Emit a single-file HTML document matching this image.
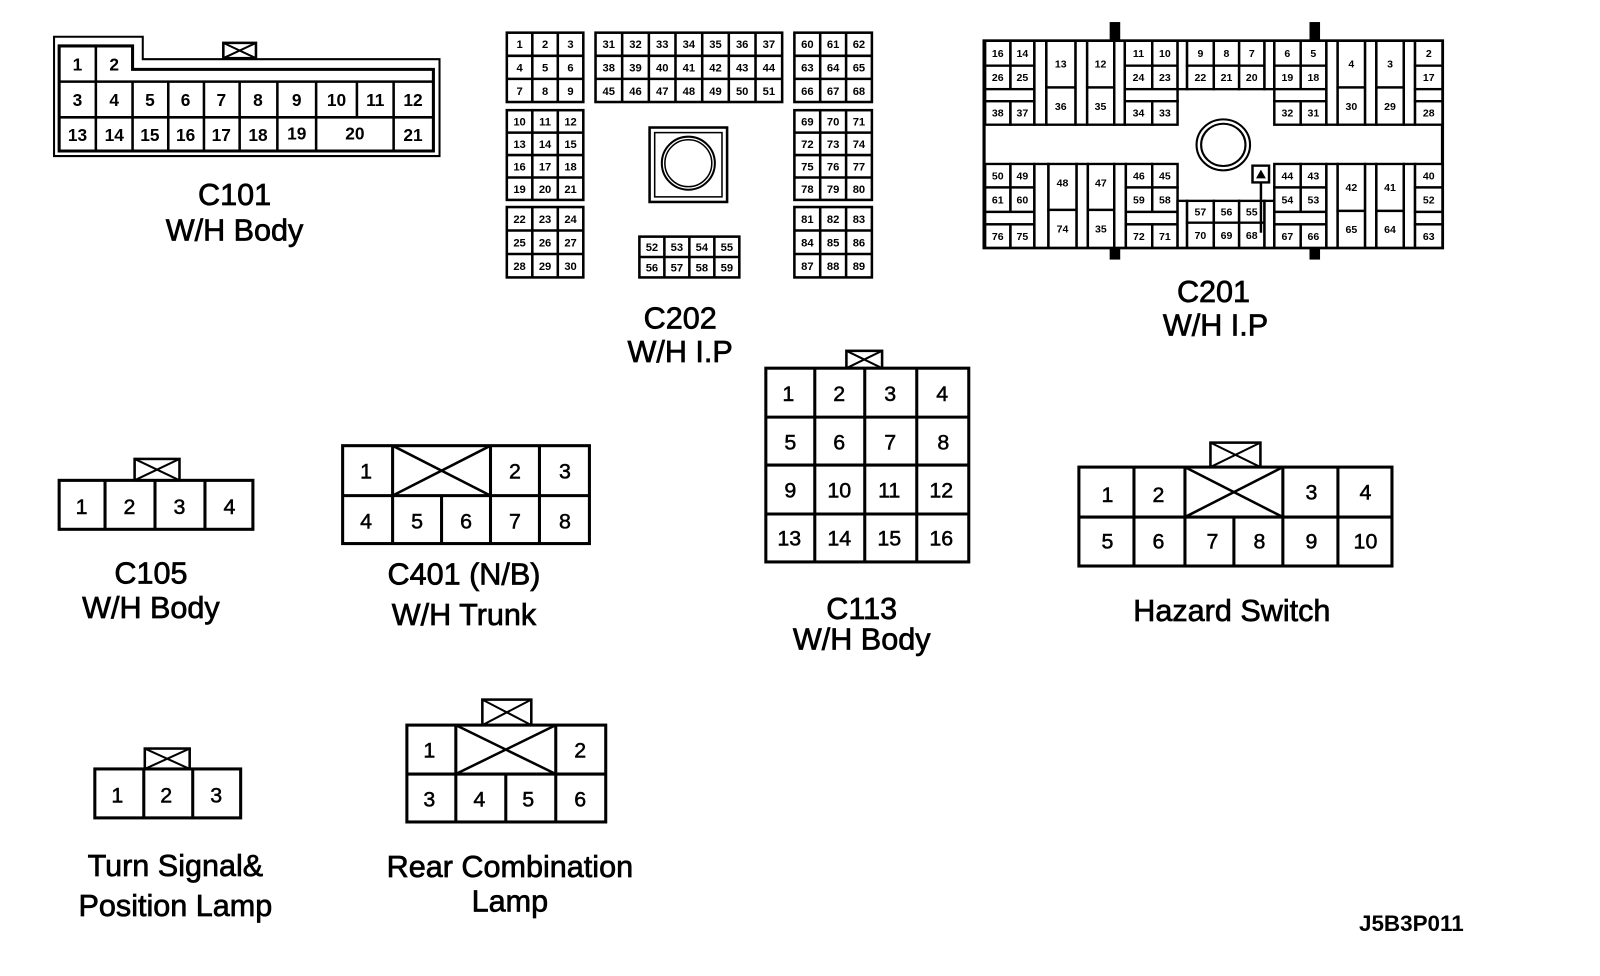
<!DOCTYPE html>
<html><head><meta charset="utf-8"><style>
html,body{margin:0;padding:0;background:#fff;}
svg{display:block;}
text{font-family:"Liberation Sans",Arial,sans-serif;fill:#000;text-anchor:middle;}
.lb{font-size:30px;stroke:#000;stroke-width:0.7px;}
.n{font-size:21px;stroke:#000;stroke-width:0.5px;}
.s{font-size:11px;font-weight:bold;}
.z{font-size:30px;font-weight:bold;}
</style></head><body>
<svg width="1600" height="976" viewBox="0 0 1569 957" xmlns="http://www.w3.org/2000/svg">
<rect x="0" y="0" width="1569" height="957" fill="#fff"/>
<g fill="none" stroke="#000">
<!-- C101 -->
<path d="M53,36H140V58H431V153H53Z" stroke-width="2"/>
<path d="M58,45H130V68H425V148H58Z" stroke-width="3"/>
<path d="M58,80H425M58,115H425M94,45V148M130,80V148M165,80V148M200,80V148M235,80V148M272,80V148M310,80V148M350,80V115M386,80V148" stroke-width="2.5"/>
<rect x="219" y="42" width="32" height="15" stroke-width="2.5" fill="#fff"/><path d="M219,42L251,57M251,42L219,57" stroke-width="2"/>
<!-- C202 blocks -->
<g stroke-width="2.5">
<rect x="497" y="32" width="75" height="68"/><path d="M522,32V100M547,32V100M497,54.7H572M497,77.3H572"/>
<rect x="584" y="32" width="183" height="68"/><path d="M610.1,32V100M636.3,32V100M662.4,32V100M688.6,32V100M714.7,32V100M740.9,32V100M584,54.7H767M584,77.3H767"/>
<rect x="779" y="32" width="76" height="68"/><path d="M804.3,32V100M829.7,32V100M779,54.7H855M779,77.3H855"/>
<rect x="497" y="108" width="75" height="88"/><path d="M522,108V196M547,108V196M497,130H572M497,152H572M497,174H572"/>
<rect x="497" y="203" width="75" height="69"/><path d="M522,203V272M547,203V272M497,226H572M497,249H572"/>
<rect x="779" y="108" width="76" height="88"/><path d="M804.3,108V196M829.7,108V196M779,130H855M779,152H855M779,174H855"/>
<rect x="779" y="203" width="76" height="69"/><path d="M804.3,203V272M829.7,203V272M779,226H855M779,249H855"/>
<rect x="627" y="232" width="98" height="40"/><path d="M651.5,232V272M676,232V272M700.5,232V272M627,252H725"/>
<rect x="637" y="125" width="76" height="73" stroke-width="2.5"/><rect x="642" y="130" width="66" height="63" stroke-width="1.5"/>
<circle cx="675" cy="160" r="26" stroke-width="2"/><circle cx="675" cy="160" r="23" stroke-width="1.5"/>
</g>
<!-- C105 -->
<rect x="132" y="450" width="44" height="21" stroke-width="2.5"/><path d="M132,450L176,471M176,450L132,471" stroke-width="2"/>
<rect x="58" y="471" width="190" height="48" stroke-width="3"/><path d="M103,471V519M152,471V519M201,471V519" stroke-width="3"/>
<!-- C401 -->
<rect x="336" y="437" width="242" height="96" stroke-width="3"/>
<path d="M336,486H578M385,437V533M481,437V533M529,437V533M433,486V533" stroke-width="3"/>
<path d="M385,437L481,486M481,437L385,486" stroke-width="2.5"/>
<!-- C113 -->
<rect x="830" y="344" width="35" height="17" stroke-width="2.5"/><path d="M830,344L865,361M865,344L830,361" stroke-width="2"/>
<rect x="751" y="361" width="199" height="190" stroke-width="3"/>
<path d="M799,361V551M848,361V551M899,361V551M751,409H950M751,456H950M751,504H950" stroke-width="3"/>
<!-- Hazard -->
<rect x="1187" y="434" width="49" height="24" stroke-width="2.5"/><path d="M1187,434L1236,458M1236,434L1187,458" stroke-width="2"/>
<rect x="1058" y="458" width="307" height="97" stroke-width="3"/>
<path d="M1058,507H1365M1112,458V555M1162,458V555M1258,458V555M1312,458V555M1210,507V555" stroke-width="3"/>
<path d="M1162,458L1258,507M1258,458L1162,507" stroke-width="2.5"/>
<!-- Turn signal -->
<rect x="142" y="734" width="44" height="20" stroke-width="2.5"/><path d="M142,734L186,754M186,734L142,754" stroke-width="2"/>
<rect x="93" y="754" width="143" height="48" stroke-width="3"/><path d="M141,754V802M189,754V802" stroke-width="3"/>
<!-- Rear combination -->
<rect x="473" y="686" width="48" height="25" stroke-width="2.5"/><path d="M473,686L521,711M521,686L473,711" stroke-width="2"/>
<rect x="399" y="711" width="195" height="95" stroke-width="3"/>
<path d="M399,759H594M447,711V806M545,711V806M496,759V806" stroke-width="3"/>
<path d="M447,711L545,759M545,711L447,759" stroke-width="2.5"/>
</g>

<!-- C101 numbers -->
<g class="n" style="font-size:17px;font-weight:bold;stroke-width:0">
<text x="76" y="69">1</text><text x="112" y="69">2</text>
<text x="76" y="104">3</text><text x="112" y="104">4</text><text x="147" y="104">5</text><text x="182" y="104">6</text><text x="217" y="104">7</text><text x="253" y="104">8</text><text x="291" y="104">9</text><text x="330" y="104">10</text><text x="368" y="104">11</text><text x="405" y="104">12</text>
<text x="76" y="138">13</text><text x="112" y="138">14</text><text x="147" y="138">15</text><text x="182" y="138">16</text><text x="217" y="138">17</text><text x="253" y="138">18</text><text x="291" y="137">19</text><text x="348" y="137">20</text><text x="405" y="138">21</text>
</g>
<!-- C202 numbers -->
<g class="s">
<text x="509.5" y="47">1</text><text x="534.5" y="47">2</text><text x="559.5" y="47">3</text>
<text x="509.5" y="70">4</text><text x="534.5" y="70">5</text><text x="559.5" y="70">6</text>
<text x="509.5" y="93">7</text><text x="534.5" y="93">8</text><text x="559.5" y="93">9</text>
<text x="597" y="47">31</text><text x="623.2" y="47">32</text><text x="649.4" y="47">33</text><text x="675.5" y="47">34</text><text x="701.6" y="47">35</text><text x="727.8" y="47">36</text><text x="754" y="47">37</text>
<text x="597" y="70">38</text><text x="623.2" y="70">39</text><text x="649.4" y="70">40</text><text x="675.5" y="70">41</text><text x="701.6" y="70">42</text><text x="727.8" y="70">43</text><text x="754" y="70">44</text>
<text x="597" y="93">45</text><text x="623.2" y="93">46</text><text x="649.4" y="93">47</text><text x="675.5" y="93">48</text><text x="701.6" y="93">49</text><text x="727.8" y="93">50</text><text x="754" y="93">51</text>
<text x="791.7" y="47">60</text><text x="817" y="47">61</text><text x="842.3" y="47">62</text>
<text x="791.7" y="70">63</text><text x="817" y="70">64</text><text x="842.3" y="70">65</text>
<text x="791.7" y="93">66</text><text x="817" y="93">67</text><text x="842.3" y="93">68</text>
<text x="509.5" y="123">10</text><text x="534.5" y="123">11</text><text x="559.5" y="123">12</text>
<text x="509.5" y="145">13</text><text x="534.5" y="145">14</text><text x="559.5" y="145">15</text>
<text x="509.5" y="167">16</text><text x="534.5" y="167">17</text><text x="559.5" y="167">18</text>
<text x="509.5" y="189">19</text><text x="534.5" y="189">20</text><text x="559.5" y="189">21</text>
<text x="509.5" y="218.5">22</text><text x="534.5" y="218.5">23</text><text x="559.5" y="218.5">24</text>
<text x="509.5" y="241.5">25</text><text x="534.5" y="241.5">26</text><text x="559.5" y="241.5">27</text>
<text x="509.5" y="264.5">28</text><text x="534.5" y="264.5">29</text><text x="559.5" y="264.5">30</text>
<text x="791.7" y="123">69</text><text x="817" y="123">70</text><text x="842.3" y="123">71</text>
<text x="791.7" y="145">72</text><text x="817" y="145">73</text><text x="842.3" y="145">74</text>
<text x="791.7" y="167">75</text><text x="817" y="167">76</text><text x="842.3" y="167">77</text>
<text x="791.7" y="189">78</text><text x="817" y="189">79</text><text x="842.3" y="189">80</text>
<text x="791.7" y="218.5">81</text><text x="817" y="218.5">82</text><text x="842.3" y="218.5">83</text>
<text x="791.7" y="241.5">84</text><text x="817" y="241.5">85</text><text x="842.3" y="241.5">86</text>
<text x="791.7" y="264.5">87</text><text x="817" y="264.5">88</text><text x="842.3" y="264.5">89</text>
<text x="639.3" y="246">52</text><text x="663.8" y="246">53</text><text x="688.3" y="246">54</text><text x="712.8" y="246">55</text>
<text x="639.3" y="266">56</text><text x="663.8" y="266">57</text><text x="688.3" y="266">58</text><text x="712.8" y="266">59</text>
</g>

<!-- C201 -->
<g transform="translate(965,40) scale(0.345,0.329) translate(-75,-68)">
<g fill="#fff" stroke="#000" stroke-width="7">
<rect x="75" y="68" width="1303" height="617" fill="none" stroke-width="9"/>
<rect x="78" y="68" width="72" height="74"/><rect x="150" y="68" width="68" height="74"/><rect x="78" y="142" width="72" height="70"/><rect x="150" y="142" width="68" height="70"/><rect x="78" y="212" width="140" height="36"/><rect x="78" y="248" width="72" height="70"/><rect x="150" y="248" width="68" height="70"/>
<rect x="218" y="68" width="34" height="250"/>
<rect x="252" y="68" width="83" height="139"/><rect x="252" y="207" width="83" height="111"/>
<rect x="335" y="68" width="33" height="250"/>
<rect x="368" y="68" width="77" height="139"/><rect x="368" y="207" width="77" height="111"/>
<rect x="445" y="68" width="30" height="250"/>
<rect x="475" y="68" width="78" height="74"/><rect x="553" y="68" width="72" height="74"/><rect x="475" y="142" width="78" height="70"/><rect x="553" y="142" width="72" height="70"/><rect x="475" y="212" width="150" height="36"/><rect x="475" y="248" width="78" height="70"/><rect x="553" y="248" width="72" height="70"/>
<rect x="625" y="68" width="27" height="144"/>
<rect x="652" y="68" width="76" height="74"/><rect x="728" y="68" width="72" height="74"/><rect x="800" y="68" width="72" height="74"/><rect x="652" y="142" width="76" height="70"/><rect x="728" y="142" width="72" height="70"/><rect x="800" y="142" width="72" height="70"/>
<rect x="872" y="68" width="28" height="144"/>
<rect x="900" y="68" width="75" height="74"/><rect x="975" y="68" width="73" height="74"/><rect x="900" y="142" width="75" height="70"/><rect x="975" y="142" width="73" height="70"/><rect x="900" y="212" width="148" height="36"/><rect x="900" y="248" width="75" height="70"/><rect x="975" y="248" width="73" height="70"/>
<rect x="1048" y="68" width="32" height="250"/>
<rect x="1080" y="68" width="78" height="139"/><rect x="1080" y="207" width="78" height="111"/>
<rect x="1158" y="68" width="32" height="250"/>
<rect x="1190" y="68" width="78" height="139"/><rect x="1190" y="207" width="78" height="111"/>
<rect x="1268" y="68" width="32" height="250"/>
<rect x="1300" y="68" width="78" height="74"/><rect x="1300" y="142" width="78" height="70"/><rect x="1300" y="212" width="78" height="36"/><rect x="1300" y="248" width="78" height="70"/>

<rect x="78" y="435" width="72" height="70"/><rect x="150" y="435" width="68" height="70"/><rect x="78" y="505" width="72" height="73"/><rect x="150" y="505" width="68" height="73"/><rect x="78" y="578" width="140" height="37"/><rect x="78" y="615" width="72" height="70"/><rect x="150" y="615" width="68" height="70"/>
<rect x="218" y="435" width="40" height="250"/>
<rect x="258" y="435" width="80" height="137"/><rect x="258" y="572" width="80" height="113"/>
<rect x="338" y="435" width="32" height="250"/>
<rect x="370" y="435" width="75" height="137"/><rect x="370" y="572" width="75" height="113"/>
<rect x="445" y="435" width="33" height="250"/>
<rect x="478" y="435" width="75" height="70"/><rect x="553" y="435" width="72" height="70"/><rect x="478" y="505" width="75" height="73"/><rect x="553" y="505" width="72" height="73"/><rect x="478" y="578" width="147" height="37"/><rect x="478" y="615" width="75" height="70"/><rect x="553" y="615" width="72" height="70"/>
<rect x="625" y="545" width="27" height="140"/>
<rect x="652" y="545" width="76" height="65"/><rect x="728" y="545" width="72" height="65"/><rect x="800" y="545" width="72" height="65"/><rect x="652" y="610" width="76" height="75"/><rect x="728" y="610" width="72" height="75"/><rect x="800" y="610" width="72" height="75"/>
<rect x="872" y="545" width="28" height="140"/>
<rect x="900" y="435" width="75" height="70"/><rect x="975" y="435" width="73" height="70"/><rect x="900" y="505" width="75" height="73"/><rect x="975" y="505" width="73" height="73"/><rect x="900" y="578" width="148" height="37"/><rect x="900" y="615" width="75" height="70"/><rect x="975" y="615" width="73" height="70"/>
<rect x="1048" y="435" width="32" height="250"/>
<rect x="1080" y="435" width="78" height="140"/><rect x="1080" y="575" width="78" height="110"/>
<rect x="1158" y="435" width="32" height="250"/>
<rect x="1190" y="435" width="78" height="140"/><rect x="1190" y="575" width="78" height="110"/>
<rect x="1268" y="435" width="32" height="250"/>
<rect x="1300" y="435" width="78" height="70"/><rect x="1300" y="505" width="78" height="73"/><rect x="1300" y="578" width="78" height="37"/><rect x="1300" y="615" width="78" height="70"/>
<circle cx="755" cy="378" r="76" fill="none" stroke-width="6"/><circle cx="755" cy="378" r="63" fill="none" stroke-width="6"/>
<rect x="838" y="440" width="47" height="50"/>
<path d="M862,490V640" fill="none"/>
</g>
<path d="M848,478L862,452L876,478Z" fill="#000"/>
<rect x="432" y="12" width="30" height="56" fill="#000"/><rect x="1000" y="12" width="30" height="56" fill="#000"/>
<rect x="432" y="685" width="30" height="35" fill="#000"/><rect x="1000" y="685" width="30" height="35" fill="#000"/>
<g class="z">
<text x="114" y="116">16</text><text x="184" y="116">14</text><text x="114" y="188">26</text><text x="184" y="188">25</text><text x="114" y="294">38</text><text x="184" y="294">37</text>
<text x="293" y="148">13</text><text x="293" y="274">36</text><text x="406" y="148">12</text><text x="406" y="274">35</text>
<text x="514" y="116">11</text><text x="589" y="116">10</text><text x="514" y="188">24</text><text x="589" y="188">23</text><text x="514" y="294">34</text><text x="589" y="294">33</text>
<text x="690" y="116">9</text><text x="764" y="116">8</text><text x="836" y="116">7</text><text x="690" y="188">22</text><text x="764" y="188">21</text><text x="836" y="188">20</text>
<text x="937" y="116">6</text><text x="1011" y="116">5</text><text x="937" y="188">19</text><text x="1011" y="188">18</text><text x="937" y="294">32</text><text x="1011" y="294">31</text>
<text x="1119" y="148">4</text><text x="1119" y="274">30</text><text x="1229" y="148">3</text><text x="1229" y="274">29</text>
<text x="1339" y="116">2</text><text x="1339" y="188">17</text><text x="1339" y="294">28</text>
<text x="114" y="481">50</text><text x="184" y="481">49</text><text x="114" y="553">61</text><text x="184" y="553">60</text><text x="114" y="661">76</text><text x="184" y="661">75</text>
<text x="298" y="502">48</text><text x="298" y="640">74</text><text x="407" y="502">47</text><text x="407" y="640">35</text>
<text x="515" y="481">46</text><text x="589" y="481">45</text><text x="515" y="553">59</text><text x="589" y="553">58</text><text x="515" y="661">72</text><text x="589" y="661">71</text>
<text x="690" y="589">57</text><text x="764" y="589">56</text><text x="836" y="589">55</text><text x="690" y="659">70</text><text x="764" y="659">69</text><text x="836" y="659">68</text>
<text x="937" y="481">44</text><text x="1011" y="481">43</text><text x="937" y="553">54</text><text x="1011" y="553">53</text><text x="937" y="661">67</text><text x="1011" y="661">66</text>
<text x="1119" y="516">42</text><text x="1119" y="641">65</text><text x="1229" y="516">41</text><text x="1229" y="641">64</text>
<text x="1339" y="481">40</text><text x="1339" y="553">52</text><text x="1339" y="661">63</text>
</g>
</g>

<!-- big connector numbers -->
<g class="n">
<text x="80" y="504">1</text><text x="127" y="504">2</text><text x="176" y="504">3</text><text x="225" y="504">4</text>
<text x="359" y="469">1</text><text x="505" y="469">2</text><text x="554" y="469">3</text>
<text x="359" y="518">4</text><text x="409" y="518">5</text><text x="457" y="518">6</text><text x="505" y="518">7</text><text x="554" y="518">8</text>
<text x="773" y="393">1</text><text x="823" y="393">2</text><text x="873" y="393">3</text><text x="924" y="393">4</text>
<text x="775" y="441">5</text><text x="823" y="441">6</text><text x="873" y="441">7</text><text x="925" y="441">8</text>
<text x="775" y="488">9</text><text x="823" y="488">10</text><text x="872" y="488">11</text><text x="923" y="488">12</text>
<text x="774" y="535">13</text><text x="823" y="535">14</text><text x="872" y="535">15</text><text x="923" y="535">16</text>
<text x="1086" y="492">1</text><text x="1136" y="492">2</text><text x="1286" y="490">3</text><text x="1339" y="490">4</text>
<text x="1086" y="538">5</text><text x="1136" y="538">6</text><text x="1189" y="538">7</text><text x="1235" y="538">8</text><text x="1286" y="538">9</text><text x="1339" y="538">10</text>
<text x="115" y="787">1</text><text x="163" y="787">2</text><text x="212" y="787">3</text>
<text x="421" y="743">1</text><text x="569" y="743">2</text>
<text x="421" y="791">3</text><text x="470" y="791">4</text><text x="518" y="791">5</text><text x="569" y="791">6</text>
</g>

<!-- labels -->
<g class="lb">
<text x="230" y="201">C101</text><text x="230" y="236">W/H Body</text>
<text x="667" y="322">C202</text><text x="667" y="355">W/H I.P</text>
<text x="1190" y="296">C201</text><text x="1192" y="329">W/H I.P</text>
<text x="148" y="572">C105</text><text x="148" y="606">W/H Body</text>
<text x="455" y="573">C401 (N/B)</text><text x="455" y="613">W/H Trunk</text>
<text x="845" y="607">C113</text><text x="845" y="637">W/H Body</text>
<text x="1208" y="609">Hazard Switch</text>
<text x="172" y="859">Turn Signal&amp;</text><text x="172" y="898">Position Lamp</text>
<text x="500" y="860">Rear Combination</text><text x="500" y="894">Lamp</text>
</g>
<text x="1384" y="913" style="font-size:22px;font-weight:bold">J5B3P011</text>
</svg>
</body></html>
